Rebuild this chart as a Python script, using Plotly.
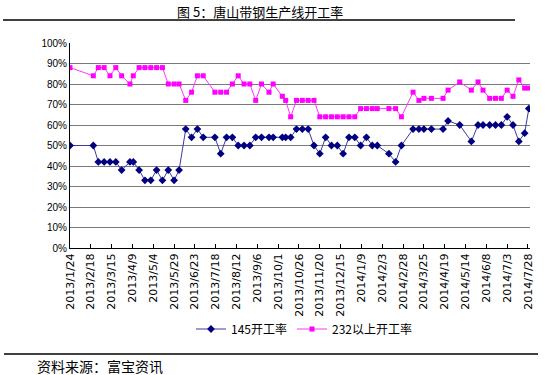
import plotly.graph_objects as go
import pandas as pd

dates = [
    "2013-01-24", "2013-02-21", "2013-02-27", "2013-03-06", "2013-03-13", "2013-03-20",
    "2013-03-27", "2013-04-06", "2013-04-10", "2013-04-17", "2013-04-24", "2013-05-01",
    "2013-05-08", "2013-05-15", "2013-05-22", "2013-05-29", "2013-06-04",
    "2013-06-12", "2013-06-19", "2013-06-26", "2013-07-03", "2013-07-17", "2013-07-24",
    "2013-07-31", "2013-08-07", "2013-08-14", "2013-08-21", "2013-08-28", "2013-09-04",
    "2013-09-11", "2013-09-20", "2013-09-25", "2013-10-06", "2013-10-10", "2013-10-16",
    "2013-10-23", "2013-10-30",
    "2013-11-06", "2013-11-13", "2013-11-20", "2013-11-27", "2013-12-04", "2013-12-11",
    "2013-12-18", "2013-12-25", "2014-01-01", "2014-01-08", "2014-01-15", "2014-01-22",
    "2014-01-28", "2014-02-11", "2014-02-19", "2014-02-26", "2014-03-12", "2014-03-19",
    "2014-03-25",
    "2014-04-03", "2014-04-17", "2014-04-23", "2014-05-07", "2014-05-21", "2014-05-29",
    "2014-06-04", "2014-06-12", "2014-06-19", "2014-06-26", "2014-07-03", "2014-07-10",
    "2014-07-17", "2014-07-24", "2014-07-29",
]

rate_145 = [
    50, 50, 42, 42, 42, 42, 38, 42, 42, 38, 33, 33, 38, 33, 38, 33, 38,
    58, 54, 58, 54, 54, 46, 54, 54, 50, 50, 50, 54, 54, 54, 54, 54, 54, 54, 58, 58,
    58, 50, 46, 54, 50, 50, 46, 54, 54, 50, 54, 50, 50, 46, 42, 50, 58, 58, 58,
    58, 58, 62, 60, 52, 60, 60, 60, 60, 60, 64, 60, 52, 56, 68,
]

rate_232 = [
    88, 84, 88, 88, 84, 88, 84, 80, 84, 88, 88, 88, 88, 88, 80, 80, 80,
    72, 76, 84, 84, 76, 76, 76, 80, 84, 80, 80, 72, 80, 76, 80, 74, 72, 64, 72, 72,
    72, 72, 64, 64, 64, 64, 64, 64, 64, 68, 68, 68, 68, 68, 68, 64, 76, 72, 73,
    73, 73, 77, 81, 77, 81, 77, 73, 73, 73, 77, 74, 82, 78, 78,
]

tick_labels = [
    "2013/1/24", "2013/2/18", "2013/3/15", "2013/4/9", "2013/5/4", "2013/5/29",
    "2013/6/23", "2013/7/18", "2013/8/12", "2013/9/6", "2013/10/1", "2013/10/26",
    "2013/11/20", "2013/12/15", "2014/1/9", "2014/2/3", "2014/2/28", "2014/3/25",
    "2014/4/19", "2014/5/14", "2014/6/8", "2014/7/3", "2014/7/28",
]

series_names = ["145开工率", "232以上开工率"]
title_text = "图 5：唐山带钢生产线开工率"
source_text = "资料来源：富宝资讯"

x = pd.to_datetime(dates)
tickvals = [pd.to_datetime(t, format="%Y/%m/%d") for t in tick_labels]

CJK = "Noto Sans CJK SC"

fig = go.Figure()
fig.add_trace(go.Scatter(
    x=x, y=rate_145, name=series_names[0], mode="lines+markers",
    line=dict(color="#3b3ba0", width=1),
    marker=dict(symbol="diamond", size=6, color="#000080"),
))
fig.add_trace(go.Scatter(
    x=x, y=rate_232, name=series_names[1], mode="lines+markers",
    line=dict(color="#ff33ff", width=1),
    marker=dict(symbol="square", size=5, color="#ff00ff"),
))

# plot area: x 70..530, y 43..248 in pixels
L, R, T, B = 70, 530, 43, 248
W, H = R - L, B - T

def px(xp):
    return (xp - L) / W

def py(yp):
    return (B - yp) / H

fig.update_layout(
    width=546, height=375,
    margin=dict(l=L, r=546 - R, t=T, b=375 - B, autoexpand=False),
    paper_bgcolor="white", plot_bgcolor="white",
    showlegend=True,
    legend=dict(
        orientation="h", x=px(304), y=py(329), xanchor="center", yanchor="middle",
        font=dict(family=CJK, size=12, color="#000000"),
        bgcolor="rgba(0,0,0,0)", itemwidth=30, tracegroupgap=0,
    ),
    xaxis=dict(
        type="date",
        range=[pd.Timestamp("2013-01-24"), pd.Timestamp("2014-07-30 10:00")],
        tickvals=tickvals, ticktext=tick_labels, tickangle=-90,
        tickfont=dict(family="DejaVu Sans", size=11, color="#000000"),
        showgrid=False, zeroline=False,
        showline=True, linecolor="#000000", linewidth=1,
        ticks="inside", ticklen=4, tickcolor="#000000",
        automargin=False,
    ),
    yaxis=dict(
        range=[0, 100], dtick=10, ticksuffix="%",
        tickfont=dict(family="Liberation Sans", size=10, color="#000000"),
        showgrid=True, gridcolor="#7a7a7a", gridwidth=1.3,
        zeroline=False,
        showline=True, linecolor="#000000", linewidth=1,
        ticks="", automargin=False,
    ),
    shapes=[
        dict(type="line", xref="paper", yref="paper",
             x0=px(3), x1=px(515), y0=py(20), y1=py(20),
             line=dict(color="#000000", width=1.5)),
        dict(type="line", xref="paper", yref="paper",
             x0=px(4), x1=px(538), y0=py(354), y1=py(354),
             line=dict(color="#000000", width=1.5)),
    ],
    annotations=[
        dict(text=title_text, xref="paper", yref="paper", x=px(260), y=py(11),
             xanchor="center", yanchor="middle", showarrow=False,
             font=dict(family=CJK, size=13, color="#000000")),
        dict(text=source_text, xref="paper", yref="paper", x=px(35), y=py(366),
             xanchor="left", yanchor="middle", showarrow=False,
             font=dict(family=CJK, size=14, color="#000000")),
    ],
)

fig.write_html(
    "out.html",
    config={"displayModeBar": False},
    post_script="document.body.style.margin='0px';document.body.style.overflow='hidden';",
)
